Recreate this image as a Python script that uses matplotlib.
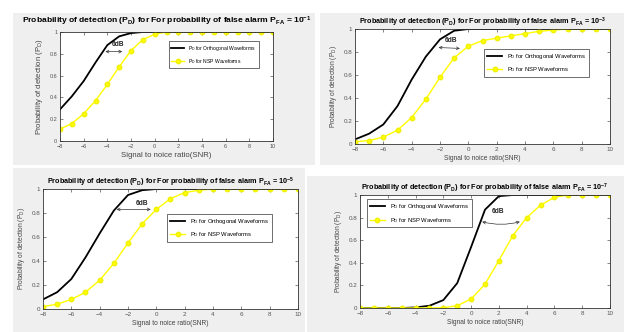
import matplotlib
matplotlib.use("Agg")
import matplotlib.pyplot as plt
from matplotlib.patches import Rectangle

plt.rcParams['font.family'] = ['Liberation Sans', 'DejaVu Sans']
plt.rcParams['mathtext.fontset'] = 'custom'
plt.rcParams['mathtext.rm'] = 'Liberation Sans'
plt.rcParams['mathtext.bf'] = 'Liberation Sans:bold'
plt.rcParams['mathtext.it'] = 'Liberation Sans'

# SNR in dB, one value per integer step
snr = list(range(-8, 11))

# PFA = 1e-1
orth_1 = [0.29, 0.41, 0.55, 0.72, 0.88, 0.96, 0.99, 1.0, 1.0, 1.0,
          1.0, 1.0, 1.0, 1.0, 1.0, 1.0, 1.0, 1.0, 1.0]
nsp_1 = [0.11, 0.16, 0.25, 0.37, 0.52, 0.68, 0.83, 0.93, 0.98, 1.0,
         1.0, 1.0, 1.0, 1.0, 1.0, 1.0, 1.0, 1.0, 1.0]
# PFA = 1e-3
orth_2 = [0.04, 0.09, 0.17, 0.33, 0.56, 0.76, 0.91, 0.985, 1.0, 1.0,
          1.0, 1.0, 1.0, 1.0, 1.0, 1.0, 1.0, 1.0, 1.0]
nsp_2 = [0.02, 0.03, 0.06, 0.12, 0.23, 0.39, 0.58, 0.75, 0.85, 0.90,
         0.92, 0.94, 0.96, 0.98, 0.99, 1.0, 1.0, 1.0, 1.0]
# PFA = 1e-5
orth_3 = [0.08, 0.14, 0.25, 0.43, 0.63, 0.82, 0.95, 0.99, 1.0, 1.0,
          1.0, 1.0, 1.0, 1.0, 1.0, 1.0, 1.0, 1.0, 1.0]
nsp_3 = [0.02, 0.04, 0.08, 0.14, 0.24, 0.38, 0.55, 0.71, 0.83, 0.92,
         0.97, 0.99, 1.0, 1.0, 1.0, 1.0, 1.0, 1.0, 1.0]
# PFA = 1e-7
orth_4 = [0.0, 0.0, 0.0, 0.0, 0.005, 0.02, 0.07, 0.22, 0.54, 0.87,
          0.99, 1.0, 1.0, 1.0, 1.0, 1.0, 1.0, 1.0, 1.0]
nsp_4 = [0.0, 0.0, 0.0, 0.0, 0.0, 0.0, 0.003, 0.02, 0.08, 0.21,
         0.42, 0.64, 0.80, 0.91, 0.98, 1.0, 1.0, 1.0, 1.0]

exponents = ['-1', '-3', '-5', '-7']
orth_all = [orth_1, orth_2, orth_3, orth_4]
nsp_all = [nsp_1, nsp_2, nsp_3, nsp_4]

xticks = [-8, -6, -4, -2, 0, 2, 4, 6, 8, 10]
yticks = [0, 0.2, 0.4, 0.6, 0.8, 1]

fig = plt.figure(figsize=(6.24, 3.32), dpi=100)
fig.patch.set_facecolor('white')

# grey figure backgrounds of the four pasted MATLAB windows (figure pixels)
W, H = 624.0, 332.0
panels_bg = [(13, 13, 315, 165), (320, 13, 624, 165),
             (13, 168, 305, 332), (307, 176, 624, 332)]
for x0, y0, x1, y1 in panels_bg:
    fig.add_artist(Rectangle((x0 / W, 1 - y1 / H), (x1 - x0) / W, (y1 - y0) / H,
                             transform=fig.transFigure, facecolor='#efefef',
                             edgecolor='none', zorder=-10))

# axes boxes in pixels: left, right, top, bottom
boxes = [(60, 273, 32, 141), (355, 610, 29, 144),
         (43, 298, 189, 309), (360, 610, 195, 308)]
title_size = [6.1, 5.2, 5.2, 5.2]
title_pad = [6, 3, 3, 3]
label_size = [5.6, 4.8, 4.8, 4.8]
tick_size = [4.0, 4.5, 4.5, 4.5]
leg_size = [3.6, 4.2, 4.2, 4.2]
leg_loc = [('upper right', (0.944, 0.936)), ('upper right', (0.93, 0.852)),
           ('upper right', (0.91, 0.817)), ('upper left', (0.016, 0.99))]

axes = []
for i in range(4):
    l, r, t, b = boxes[i]
    ax = fig.add_axes([l / W, 1 - b / H, (r - l) / W, (b - t) / H])
    axes.append(ax)
    orth = orth_all[i]
    nsp = nsp_all[i]
    ax.plot(snr, orth, color='black', lw=1.3,
            label=r'P$_\mathrm{D}$ for Orthogonal Waveforms')
    ax.plot(snr, nsp, color='#ffff00', lw=1.0, marker='o', ms=3.2,
            markerfacecolor='#ffff00', markeredgecolor='#f0f000', ls='-',
            label=r'P$_\mathrm{D}$ for NSP Waveforms')
    # where both curves sit on 1 the black line shows through the yellow one
    both = [k for k in range(len(snr)) if orth[k] >= 1.0 and nsp[k] >= 1.0]
    ax.plot([snr[k] for k in both], [nsp[k] for k in both],
            color='#333300', lw=0.7, ls=(0, (1, 1.5)))
    ax.set_xlim(-8, 10)
    ax.set_ylim(0, 1)
    ax.set_xticks(xticks)
    ax.set_yticks(yticks)
    ax.set_yticklabels(['0', '0.2', '0.4', '0.6', '0.8', '1'])
    ax.tick_params(direction='in', length=2, width=0.5, labelsize=tick_size[i],
                   colors='#555555', top=True, right=True, pad=2)
    for s in ax.spines.values():
        s.set_linewidth(0.6)
        s.set_color('#333333')
    ax.set_title(r'Probability of detection (P$_\mathbf{D}$) for For probability of false alarm '
                 r'P$_\mathbf{FA}$ = 10$^{\mathbf{' + exponents[i] + '}}$',
                 fontsize=title_size[i], fontweight='bold', pad=title_pad[i])
    ax.set_xlabel('Signal to noice ratio(SNR)', fontsize=label_size[i],
                  color='#444444', labelpad=2)
    ax.set_ylabel(r'Probability of detection (P$_\mathrm{D}$)', fontsize=label_size[i],
                  color='#444444', labelpad=3)
    loc, anchor = leg_loc[i]
    leg = ax.legend(loc=loc, bbox_to_anchor=anchor, fontsize=leg_size[i],
                    frameon=True, fancybox=False, edgecolor='black',
                    handlelength=2.6, borderpad=0.5, labelspacing=0.8)
    leg.get_frame().set_linewidth(0.5)

# 6dB markers between the curves
arrows = [((-4.4, 0.82), (-2.5, 0.82), (-3.1, 0.85), 'arc3,rad=0'),
          ((-2.3, 0.84), (-0.4, 0.83), (-1.2, 0.87), 'arc3,rad=0'),
          ((-3.0, 0.83), (-0.2, 0.83), (-1.0, 0.85), 'arc3,rad=0'),
          ((0.6, 0.77), (3.7, 0.77), (1.9, 0.82), 'arc3,rad=0.15')]
for ax, (p0, p1, tp, cs) in zip(axes, arrows):
    ax.annotate('', xy=p1, xytext=p0,
                arrowprops=dict(arrowstyle='<->', lw=0.5, color='#333333',
                                mutation_scale=5, connectionstyle=cs))
    ax.text(tp[0], tp[1], '6dB', fontsize=4.8, fontweight='bold', ha='center',
            va='bottom', color='#222222')

fig.savefig('out.png', dpi=100)
